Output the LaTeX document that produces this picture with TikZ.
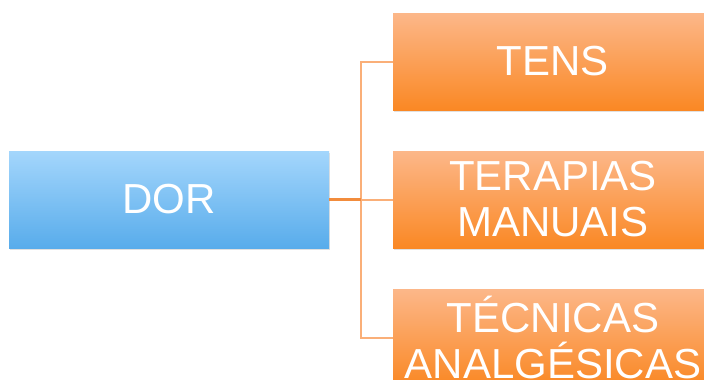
\documentclass[tikz,border=0pt]{standalone}
\usepackage{fontspec}
\setmainfont{Liberation Sans}
\definecolor{bluetop}{RGB}{164,214,252}
\definecolor{bluebot}{RGB}{88,172,235}
\definecolor{orgtop}{RGB}{252,183,137}
\definecolor{orgbot}{RGB}{250,136,36}
\definecolor{connlight}{RGB}{250,175,120}
\definecolor{conndark}{RGB}{242,140,60}
\tikzset{
  boxbase/.style={rectangle, minimum width=320pt, minimum height=97pt, inner sep=0pt,
    text=white, align=center, font=\fontsize{42}{46}\selectfont},
  bluebox/.style={boxbase, top color=bluetop, bottom color=bluebot},
  orangebox/.style={boxbase, top color=orgtop, bottom color=orgbot},
  shadowbox/.style={fill=black, fill opacity=0.12, minimum width=320pt, minimum height=97pt, inner sep=0pt, rectangle},
  connline/.style={draw=connlight, line width=2pt},
  stubline/.style={draw=conndark, line width=2.4pt}
}
\begin{document}
\begin{tikzpicture}[x=1pt,y=-1pt]
\useasboundingbox (0,0) rectangle (704,380);
\clip (0,0) rectangle (704,380);
\fill[white] (0,0) rectangle (704,380);
% shadows
\node[shadowbox] at (169.5,201.5) {};
\node[shadowbox] at (553.5,63.5) {};
\node[shadowbox] at (553.5,201.5) {};
\node[shadowbox] at (553.5,339.5) {};
% boxes
\node[bluebox] (dor) at (169,199.5) {DOR};
\node[orangebox] (tens) at (553,61.5) {TENS};
\node[orangebox] (terap) at (553,199.5) {TERAPIAS\\MANUAIS};
\node[orangebox] (tecn) at (553,337.5) {TÉCNICAS\\ANALGÉSICAS};
\coordinate (junc) at ([xshift=32pt]dor.east);
% connectors
\draw[connline] (junc) |- (tens.west);
\draw[connline] (junc) -- (terap.west);
\draw[connline] (junc) |- (tecn.west);
\draw[stubline] (dor.east) -- (junc);
\end{tikzpicture}
\end{document}
